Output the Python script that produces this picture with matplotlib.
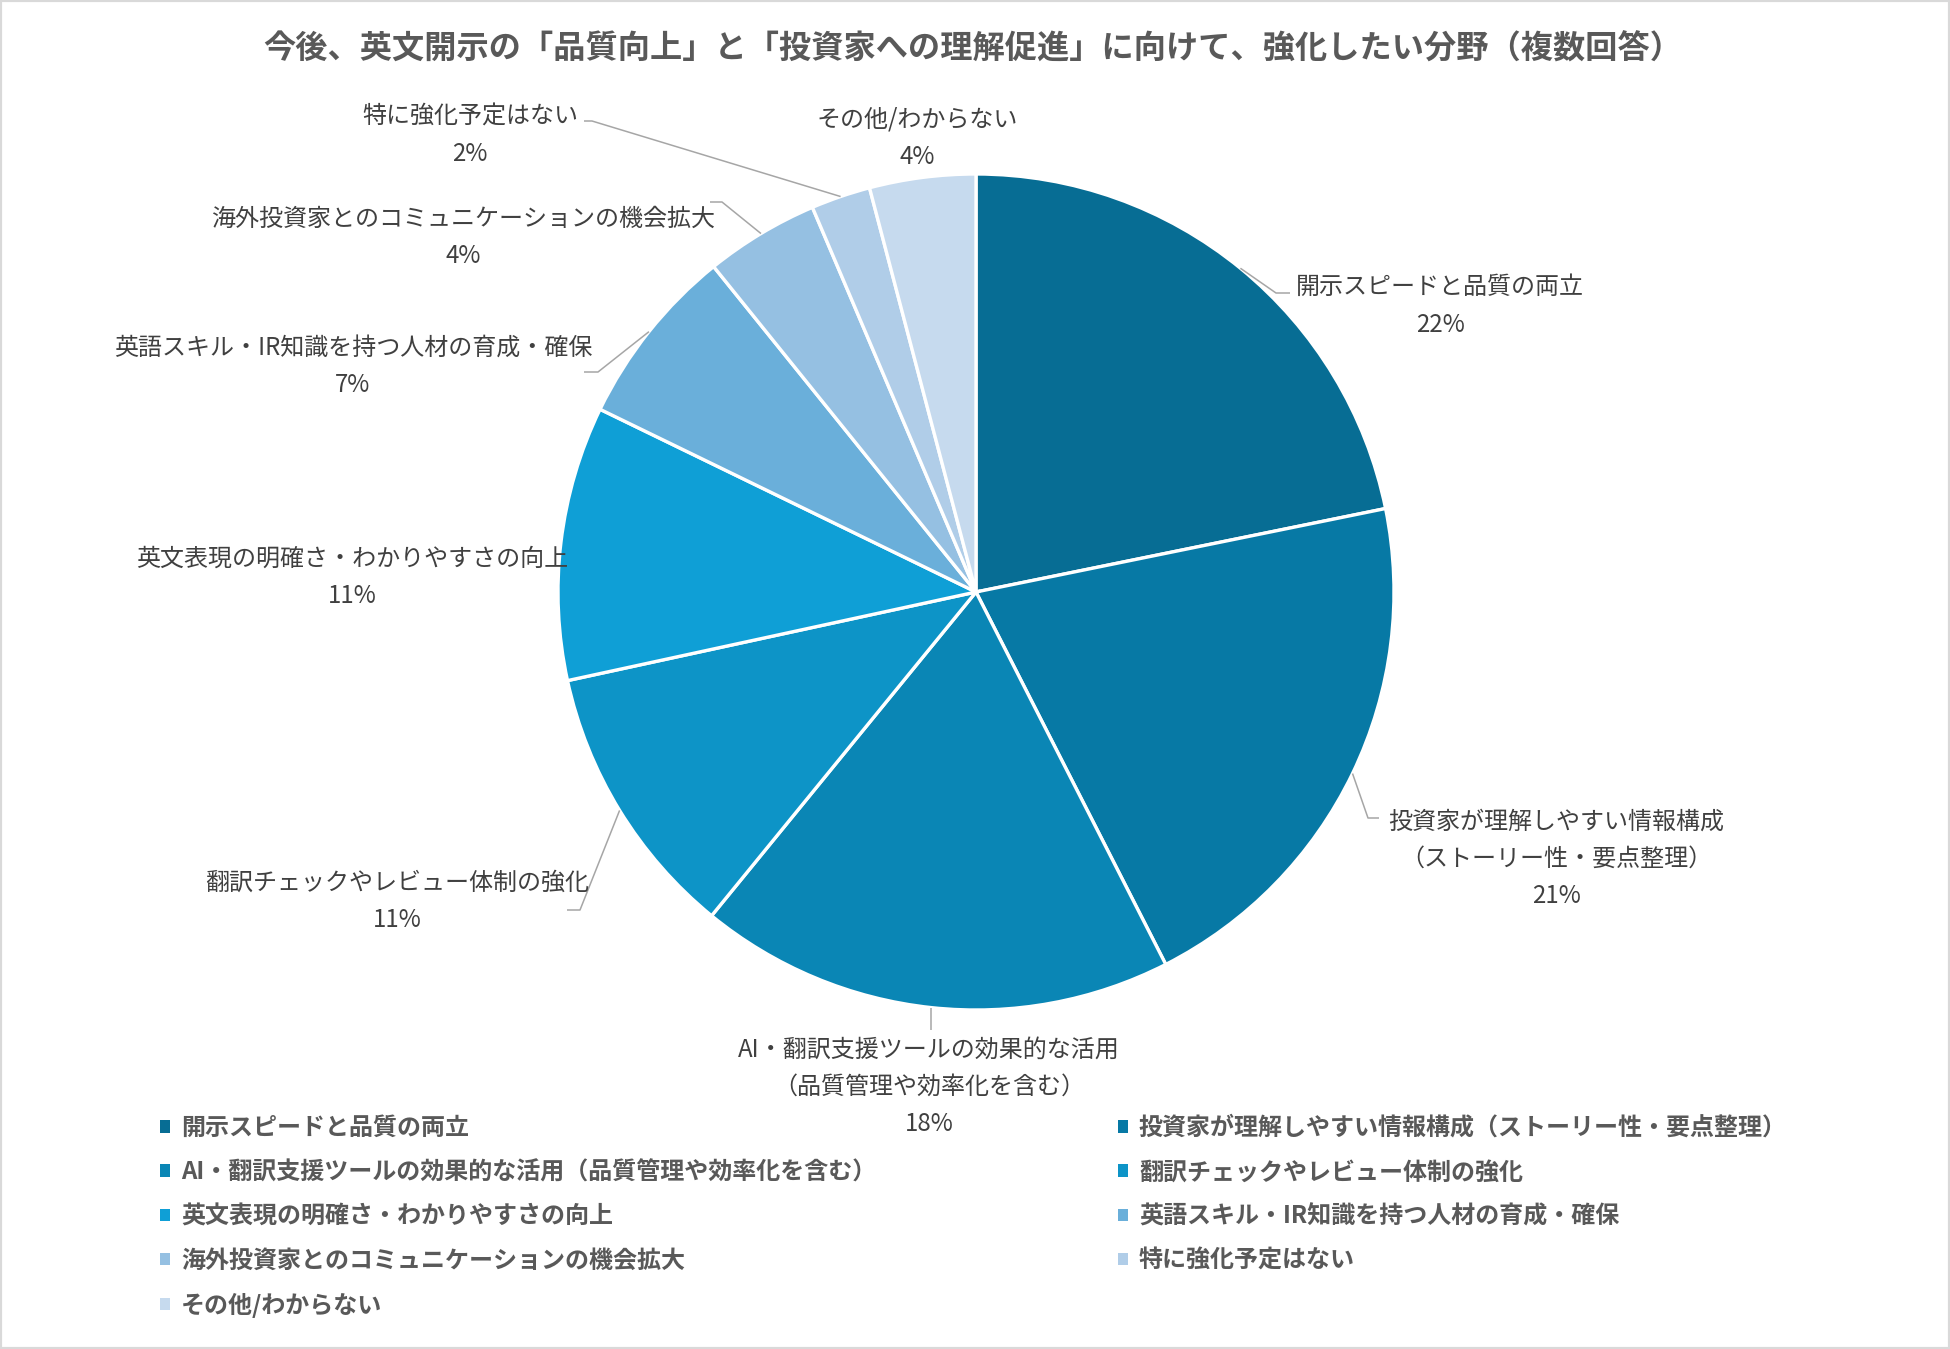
import matplotlib
matplotlib.use("Agg")
import matplotlib.pyplot as plt
from matplotlib.patches import Patch, Rectangle
import numpy as np

plt.rcParams['font.family'] = ['Noto Sans CJK JP', 'DejaVu Sans']

title = "今後、英文開示の「品質向上」と「投資家への理解促進」に向けて、強化したい分野（複数回答）"
categories = [
    "開示スピードと品質の両立",
    "投資家が理解しやすい情報構成（ストーリー性・要点整理）",
    "AI・翻訳支援ツールの効果的な活用（品質管理や効率化を含む）",
    "翻訳チェックやレビュー体制の強化",
    "英文表現の明確さ・わかりやすさの向上",
    "英語スキル・IR知識を持つ人材の育成・確保",
    "海外投資家とのコミュニケーションの機会拡大",
    "特に強化予定はない",
    "その他/わからない",
]
values = [21.8, 20.7, 18.4, 10.7, 10.6, 7.0, 4.4, 2.3, 4.1]
colors = ["#076d94", "#0779a5", "#0a86b5", "#0d94c7", "#0f9fd6",
          "#6aafda", "#95c0e2", "#b0cde8", "#c6daee"]

W, H = 1950, 1349
CX, CY, R = 976, 592, 418

def P(px, py):
    return ((px - CX) / R, (CY - py) / R)

fig = plt.figure(figsize=(W / 100, H / 100), dpi=100)
ax = fig.add_axes([0, 0, 1, 1])

wedges, _ = ax.pie(values, colors=colors, startangle=90, counterclock=False,
                   radius=1.0, wedgeprops=dict(edgecolor="white", linewidth=2.4))
ax.set_xlim(-CX / R, (W - CX) / R)
ax.set_ylim((CY - H) / R, CY / R)
ax.set_aspect('auto')
ax.axis('off')

# label layout (pixel positions of label block centres)
label_pos = [(1440, 306), (1556, 859), (929, 1087), (397, 901), (352, 577),
             (353, 366), (463, 237), (470, 135), (917, 138)]
# leader elbows / ends in pixels (None = no leader)
leaders = [
    [(1276, 293), (1290, 293)],
    [(1368, 818), (1379, 818)],
    [None, (0, 1030)],
    [(580, 910), (567, 910)],
    None,
    [(598, 372), (584, 372)],
    [(722, 202), (710, 202)],
    [(592, 121), (584, 121)],
    None,
]

for i, (w, cat, v) in enumerate(zip(wedges, categories, values)):
    pie_label = cat.replace("（", "\n（")
    text = f"{pie_label}\n{round(v)}%"
    lx, ly = P(*label_pos[i])
    ax.text(lx, ly, text, ha='center', va='center', fontsize=17.3,
            color="#404040", linespacing=1.56)
    ld = leaders[i]
    if ld is not None:
        ang = np.deg2rad((w.theta1 + w.theta2) / 2)
        sx, sy = np.cos(ang), np.sin(ang)
        pts = [(sx, sy)]
        for p in ld:
            if p is None:
                continue
            if p[0] == 0:
                pts.append((sx, P(0, p[1])[1]))
            else:
                pts.append(P(*p))
        xs, ys = zip(*pts)
        ax.plot(xs, ys, color="#a6a6a6", linewidth=1.1, solid_capstyle='butt')

fig.text(973 / W, 1 - 49.5 / H, title, ha='center', va='center', fontsize=23.2,
         fontweight='bold', color="#595959")

handles = [Patch(facecolor=c, edgecolor='none') for c in colors]
left_idx = [0, 2, 4, 6, 8]
right_idx = [1, 3, 5, 7]
common = dict(frameon=False, fontsize=17.3, handlelength=0.42, handleheight=0.42,
              handletextpad=0.45, labelspacing=0.84, borderpad=0, borderaxespad=0,
              loc='upper left', bbox_transform=fig.transFigure)
leg1 = fig.legend([handles[i] for i in left_idx], [categories[i] for i in left_idx],
                  bbox_to_anchor=(160 / W, 1 - 1116 / H), **common)
leg2 = fig.legend([handles[i] for i in right_idx], [categories[i] for i in right_idx],
                  bbox_to_anchor=(1118 / W, 1 - 1116 / H), **common)
for leg in (leg1, leg2):
    for t in leg.get_texts():
        t.set_color("#595959")
        t.set_fontweight('bold')

fig.patches.append(Rectangle((0, 0), 1, 1, transform=fig.transFigure, fill=False,
                             edgecolor="#d9d9d9", linewidth=3))

fig.savefig("out.png", dpi=100, facecolor="white")
